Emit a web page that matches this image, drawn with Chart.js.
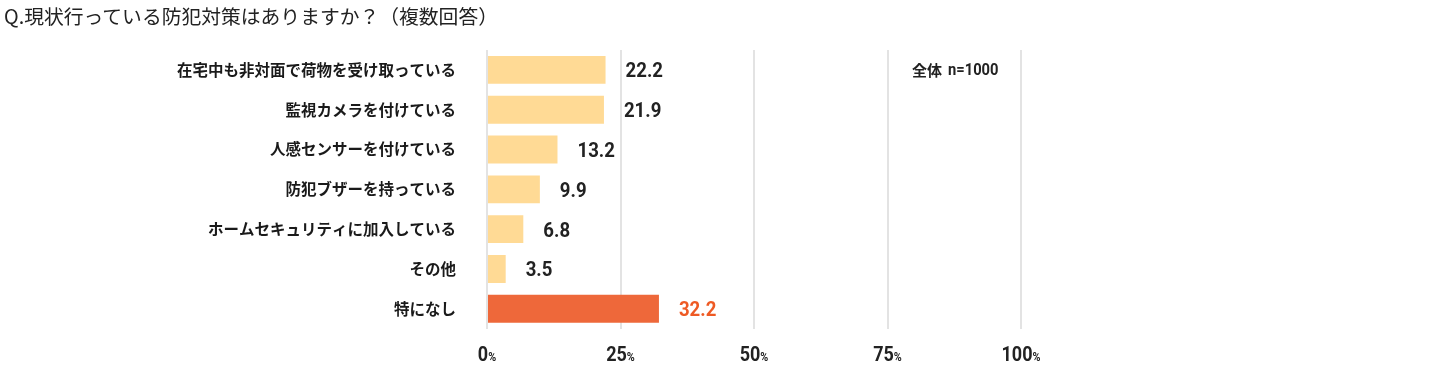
<!DOCTYPE html>
<html>
<head>
<meta charset="utf-8">
<script src="https://cdn.jsdelivr.net/npm/chart.js@4.4.1/dist/chart.umd.min.js"></script>
<style>
  html, body { margin:0; padding:0; background:#fff; }
  #wrap { position:relative; width:1440px; height:369px; }
  #title { position:absolute; left:4px; top:1px; font:19.8px "Noto Sans CJK JP", sans-serif; color:#222; }
</style>
</head>
<body>
<div id="wrap">
  <div id="title">Q.現状行っている防犯対策はありますか？（複数回答）</div>
  <canvas id="c" width="1440" height="369"></canvas>
</div>
<script>
// ── data ──
const categories = [
  '在宅中も非対面で荷物を受け取っている',
  '監視カメラを付けている',
  '人感センサーを付けている',
  '防犯ブザーを持っている',
  'ホームセキュリティに加入している',
  'その他',
  '特になし'
];
const values = [22.2, 21.9, 13.2, 9.9, 6.8, 3.5, 32.2];
const xTicks = [0, 25, 50, 75, 100];
const sampleLabel = '全体';
const sampleN = 'n=1000';

const BAR = '#FFDA95', BAR_HI = '#EE683A';
const NUM_FONT = '"Roboto", sans-serif';
const JP_FONT = '"Noto Sans CJK JP", sans-serif';

// draws text squeezed horizontally, like the condensed face in the original
function narrowText(ctx, text, x, y, sx) {
  ctx.save();
  ctx.translate(x, y);
  ctx.scale(sx, 1);
  ctx.fillText(text, 0, 0);
  ctx.restore();
}

// value labels + sample size note
const valueLabels = {
  id: 'valueLabels',
  afterDatasetsDraw(chart) {
    const ctx = chart.ctx;
    const meta = chart.getDatasetMeta(0);
    ctx.save();
    ctx.textBaseline = 'alphabetic';
    ctx.textAlign = 'left';
    ctx.font = 'bold 20px ' + NUM_FONT;
    meta.data.forEach((bar, i) => {
      ctx.fillStyle = i === values.length - 1 ? '#EE5A24' : '#222';
      narrowText(ctx, values[i].toFixed(1), bar.x + 20, bar.y + 7.5, 0.93);
    });
    // 全体 n=1000
    ctx.fillStyle = '#222';
    ctx.textBaseline = 'middle';
    ctx.font = 'bold 15px ' + JP_FONT;
    ctx.fillText(sampleLabel, 912, 70);
    const w = ctx.measureText(sampleLabel).width;
    ctx.font = 'bold 16px ' + NUM_FONT;
    narrowText(ctx, sampleN, 912 + w + 6, 71, 0.92);
    ctx.restore();
  }
};

// x tick labels with a small % sign
const pctTicks = {
  id: 'pctTicks',
  afterDraw(chart) {
    const ctx = chart.ctx, xs = chart.scales.x;
    const sx = 0.9;
    ctx.save();
    ctx.fillStyle = '#222';
    ctx.textBaseline = 'alphabetic';
    ctx.textAlign = 'left';
    xTicks.forEach(v => {
      const x = xs.getPixelForValue(v);
      const num = String(v);
      ctx.font = 'bold 20px ' + NUM_FONT;
      const wn = ctx.measureText(num).width * sx;
      ctx.font = 'bold 12px ' + NUM_FONT;
      const wp = ctx.measureText('%').width * sx;
      const left = x - (wn + wp) / 2;
      ctx.font = 'bold 20px ' + NUM_FONT;
      narrowText(ctx, num, left, 361, sx);
      ctx.font = 'bold 12px ' + NUM_FONT;
      narrowText(ctx, '%', left + wn, 361, sx);
    });
    ctx.restore();
  }
};

new Chart(document.getElementById('c'), {
  type: 'bar',
  data: {
    labels: categories,
    datasets: [{
      data: values,
      backgroundColor: values.map((v, i) => i === values.length - 1 ? BAR_HI : BAR),
      borderWidth: 0,
      barPercentage: 0.7,
      categoryPercentage: 1
    }]
  },
  options: {
    indexAxis: 'y',
    responsive: false,
    animation: false,
    layout: { padding: { top: 50, right: 419, left: 0, bottom: 0 } },
    plugins: { legend: { display: false }, tooltip: { enabled: false } },
    scales: {
      x: {
        min: 0, max: 100,
        afterBuildTicks: s => { s.ticks = xTicks.map(v => ({ value: v })); },
        afterFit: s => { s.height = 39; },
        ticks: { display: false },
        grid: { color: '#e3e3e3', lineWidth: 2, drawTicks: false },
        border: { display: false }
      },
      y: {
        afterFit: s => { s.width = 487; },
        ticks: { color: '#1a1a1a', padding: 31, font: { family: JP_FONT, size: 15.5, weight: 'bold' } },
        grid: { display: false, drawTicks: false },
        border: { display: false }
      }
    }
  },
  plugins: [valueLabels, pctTicks]
});
</script>
</body>
</html>
